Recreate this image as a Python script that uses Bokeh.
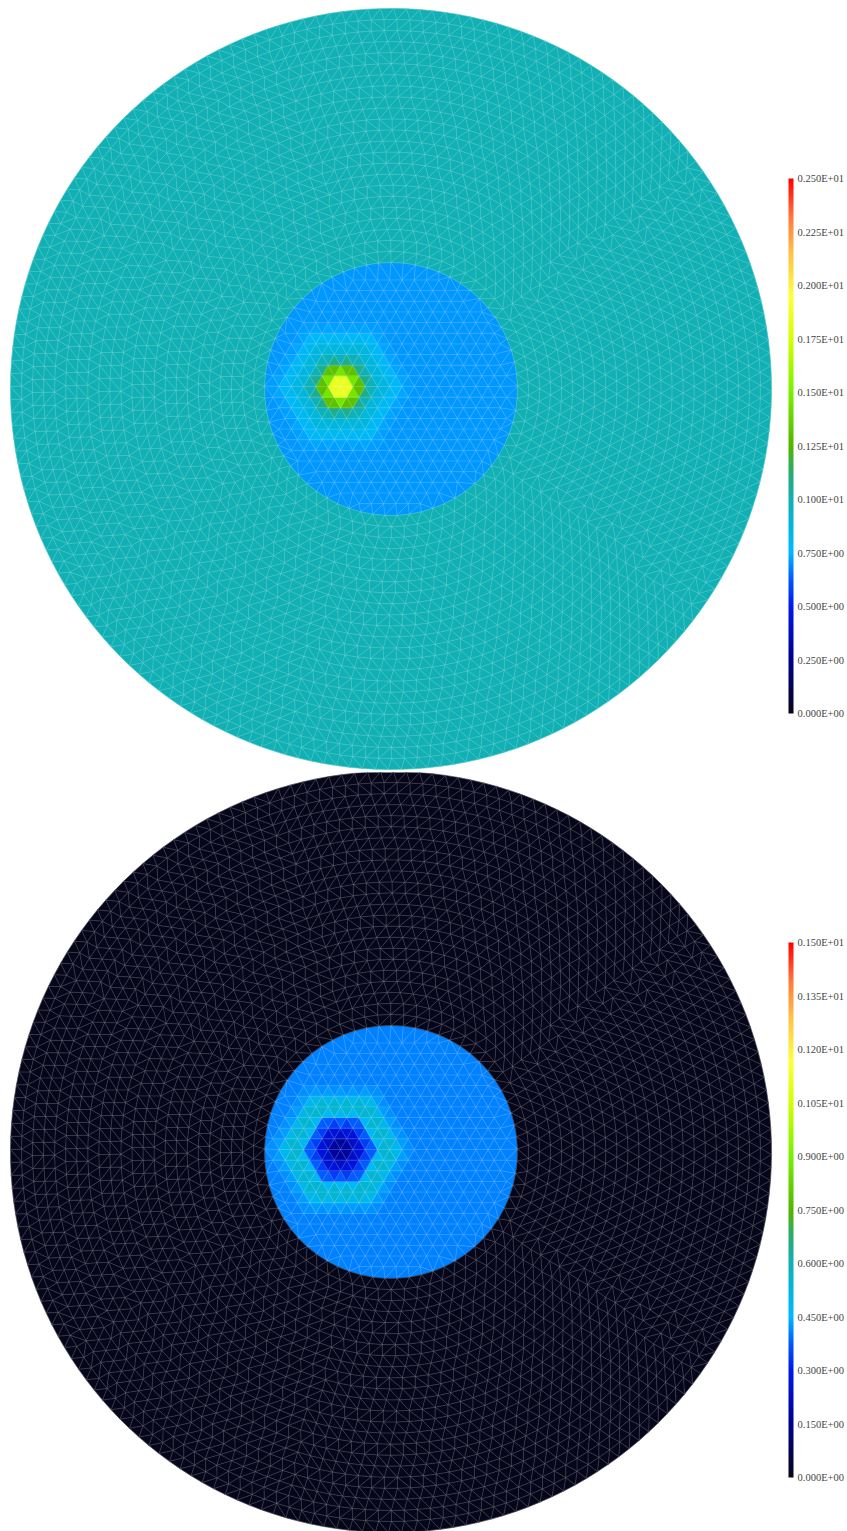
import numpy as np
from collections import deque
from bokeh.plotting import figure
from bokeh.models import (ColumnDataSource, LinearColorMapper, ColorBar, FixedTicker,
                          Range1d, CustomJSTickFormatter)
from bokeh.layouts import column
from bokeh.transform import transform
from bokeh.embed import file_html
from bokeh.resources import INLINE

# ---------------- data ----------------
top_low, top_high = 0.0, 2.5
top_ticks = [0.0, 0.25, 0.5, 0.75, 1.0, 1.25, 1.5, 1.75, 2.0, 2.25, 2.5]
top_tick_labels = ["0.000E+00", "0.250E+00", "0.500E+00", "0.750E+00", "0.100E+01",
                   "0.125E+01", "0.150E+01", "0.175E+01", "0.200E+01", "0.225E+01",
                   "0.250E+01"]
top_outer_value = 1.0
top_inner_value = 0.71
top_spot_profile = [2.3, 1.62, 1.15, 0.90, 0.84, 0.74]   # node values by mesh distance from spot

bottom_low, bottom_high = 0.0, 1.5
bottom_ticks = [0.0, 0.15, 0.3, 0.45, 0.6, 0.75, 0.9, 1.05, 1.2, 1.35, 1.5]
bottom_tick_labels = ["0.000E+00", "0.150E+00", "0.300E+00", "0.450E+00", "0.600E+00",
                      "0.750E+00", "0.900E+00", "0.105E+01", "0.120E+01", "0.135E+01",
                      "0.150E+01"]
bottom_outer_value = 0.0
bottom_inner_value = 0.41
bottom_spot_profile = [0.12, 0.22, 0.30, 0.42, 0.60, 0.44]

# ---------------- colormap (style) ----------------
stops = [
    (0.00, (6, 6, 26)), (0.10, (0, 0, 140)), (0.20, (0, 25, 235)), (0.25, (0, 90, 255)),
    (0.30, (0, 185, 255)), (0.35, (0, 182, 220)), (0.40, (16, 176, 180)),
    (0.45, (40, 172, 110)), (0.50, (85, 180, 0)), (0.60, (120, 240, 0)),
    (0.70, (210, 255, 0)), (0.78, (255, 255, 60)), (0.86, (255, 195, 75)),
    (0.93, (255, 120, 60)), (1.00, (255, 0, 0)),
]
sp = np.array([s[0] for s in stops])
sc = np.array([s[1] for s in stops], dtype=float)
palette = []
for f in np.linspace(0, 1, 256):
    rgb = [int(round(np.interp(f, sp, sc[:, c]))) for c in range(3)]
    palette.append("#%02x%02x%02x" % tuple(rgb))

# ---------------- mesh geometry (unit: px, centred on the disc) ----------------
R_OUT = 380.5
R_IN = 126.5
H_IN = 12.3
H_OUT = 13.0
SPOT = (-50.5, 2.5)


def delaunay(P):
    n = len(P)
    c = P.mean(0)
    span = np.ptp(P, 0).max()
    S = np.array([[c[0] - 30 * span, c[1] - 30 * span],
                  [c[0] + 30 * span, c[1] - 30 * span],
                  [c[0], c[1] + 30 * span]])
    pts = np.vstack([P, S])
    st = {"cap": 16 * n + 16, "m": 0}
    st["T"] = np.zeros((st["cap"], 3), dtype=np.int64)
    st["cx"] = np.zeros(st["cap"]); st["cy"] = np.zeros(st["cap"])
    st["r2"] = np.zeros(st["cap"]); st["alive"] = np.zeros(st["cap"], dtype=bool)

    def add(a, b, cc):
        if st["m"] >= st["cap"]:
            k = st["cap"]
            st["T"] = np.vstack([st["T"], np.zeros((k, 3), dtype=np.int64)])
            for key in ("cx", "cy", "r2"):
                st[key] = np.concatenate([st[key], np.zeros(k)])
            st["alive"] = np.concatenate([st["alive"], np.zeros(k, dtype=bool)])
            st["cap"] = 2 * k
        ax, ay = pts[a]; bx, by = pts[b]; qx, qy = pts[cc]
        d = 2 * (ax * (by - qy) + bx * (qy - ay) + qx * (ay - by))
        A, B, C = ax * ax + ay * ay, bx * bx + by * by, qx * qx + qy * qy
        ux = (A * (by - qy) + B * (qy - ay) + C * (ay - by)) / d
        uy = (A * (qx - bx) + B * (ax - qx) + C * (bx - ax)) / d
        m = st["m"]
        st["T"][m] = (a, b, cc)
        st["cx"][m], st["cy"][m] = ux, uy
        st["r2"][m] = (ax - ux) ** 2 + (ay - uy) ** 2
        st["alive"][m] = True
        st["m"] = m + 1

    add(n, n + 1, n + 2)
    for i in range(n):
        px, py = pts[i]
        m = st["m"]
        bad = np.nonzero(st["alive"][:m] &
                         ((st["cx"][:m] - px) ** 2 + (st["cy"][:m] - py) ** 2
                          < st["r2"][:m] * (1 - 1e-12)))[0]
        cnt = {}
        for t in bad:
            a, b, cc = st["T"][t]
            for u, v in ((a, b), (b, cc), (cc, a)):
                key = (min(u, v), max(u, v))
                cnt[key] = cnt.get(key, 0) + 1
        st["alive"][bad] = False
        for (u, v), k in cnt.items():
            if k == 1:
                add(u, v, i)
    T = st["T"][:st["m"]][st["alive"][:st["m"]]]
    T = T[(T < n).all(axis=1)]
    return T


def build_mesh():
    P = []
    # regular lattice in the inner disc, anchored on the spot
    for j in range(-25, 26):
        for i in range(-25, 26):
            x = SPOT[0] + (i + 0.5 * j) * H_IN
            y = SPOT[1] + j * H_IN * np.sqrt(3) / 2
            if np.hypot(x, y) < R_IN - 0.55 * H_IN:
                P.append((x, y))
    spot_index = int(np.argmin([(x - SPOT[0]) ** 2 + (y - SPOT[1]) ** 2 for x, y in P]))
    # inner circle
    n_in = int(round(2 * np.pi * R_IN / H_IN))
    for q in range(n_in):
        a = 2 * np.pi * (q + 0.25) / n_in
        P.append((R_IN * np.cos(a), R_IN * np.sin(a)))
    # rings of the outer annulus
    K = int(round((R_OUT - R_IN) / (H_OUT * np.sqrt(3) / 2)))
    for k in range(1, K + 1):
        r = R_IN + k * (R_OUT - R_IN) / K
        nk = int(round(2 * np.pi * r / H_OUT))
        off = 0.5 * (k % 2) + 0.013 * k
        for q in range(nk):
            a = 2 * np.pi * (q + off) / nk
            P.append((r * np.cos(a), r * np.sin(a)))
    P = np.array(P)
    T = delaunay(P)
    cen = P[T].mean(axis=1)
    inner = np.hypot(cen[:, 0], cen[:, 1]) < R_IN
    # graph distance from the spot node
    adj = [set() for _ in range(len(P))]
    for a, b, c in T:
        adj[a].update((b, c)); adj[b].update((a, c)); adj[c].update((a, b))
    dist = {spot_index: 0}
    dq = deque([spot_index])
    while dq:
        u = dq.popleft()
        if dist[u] >= 8:
            continue
        for w in adj[u]:
            if w not in dist:
                dist[w] = dist[u] + 1
                dq.append(w)
    edges = set()
    for a, b, c in T:
        for u, v in ((a, b), (b, c), (c, a)):
            edges.add((min(u, v), max(u, v)))
    return P, T, inner, dist, sorted(edges)


MESH = build_mesh()


def make_panel(H, cy_from_top, low, high, ticks, labels, outer_v, inner_v, profile, bar_bottom):
    P, T, inner, dist, edges = MESH
    W = 847
    p = figure(width=W, height=H, output_backend="svg", toolbar_location=None,
               x_range=Range1d(0, W), y_range=Range1d(0, H), min_border=0,
               x_axis_location=None, y_axis_location=None)
    p.xgrid.visible = False
    p.ygrid.visible = False
    p.outline_line_color = None
    p.background_fill_color = "white"
    cx, cy = 390.5, H - cy_from_top
    X = P[:, 0] + cx
    Y = P[:, 1] + cy

    nv = np.full(len(P), inner_v)
    for node, d in dist.items():
        if d < len(profile):
            nv[node] = profile[d]
    vals = np.where(inner, nv[T].mean(axis=1), outer_v)

    src = ColumnDataSource(dict(xs=[list(X[t]) for t in T], ys=[list(Y[t]) for t in T],
                                value=list(vals)))
    mapper = LinearColorMapper(palette=palette, low=low, high=high)
    p.patches("xs", "ys", source=src, fill_color=transform("value", mapper),
              line_color=transform("value", mapper), line_width=0.6)
    exs = [[X[u], X[v]] for u, v in edges]
    eys = [[Y[u], Y[v]] for u, v in edges]
    p.multi_line(exs, eys, line_color="white", line_alpha=0.28, line_width=0.6)

    cb = ColorBar(color_mapper=mapper, ticker=FixedTicker(ticks=ticks),
                  formatter=CustomJSTickFormatter(args=dict(labels=labels),
                                                  code="return labels[index];"),
                  width=5, height=535, padding=0, label_standoff=4,
                  major_tick_line_color=None, minor_tick_line_color=None,
                  bar_line_color=None, border_line_color=None,
                  background_fill_alpha=0.0,
                  major_label_text_font="Liberation Serif",
                  major_label_text_font_size="10.5px",
                  major_label_text_color="#444444",
                  major_label_text_align="left", major_label_text_baseline="middle",
                  location=(788, bar_bottom))
    p.add_layout(cb)
    return p


p1 = make_panel(772, 388.5, top_low, top_high, top_ticks, top_tick_labels,
                top_outer_value, top_inner_value, top_spot_profile, 59)
p2 = make_panel(759, 379.5, bottom_low, bottom_high, bottom_ticks, bottom_tick_labels,
                bottom_outer_value, bottom_inner_value, bottom_spot_profile, 54)

layout = column(p1, p2, spacing=0)
open("out.html", "w").write(file_html(layout, INLINE))
